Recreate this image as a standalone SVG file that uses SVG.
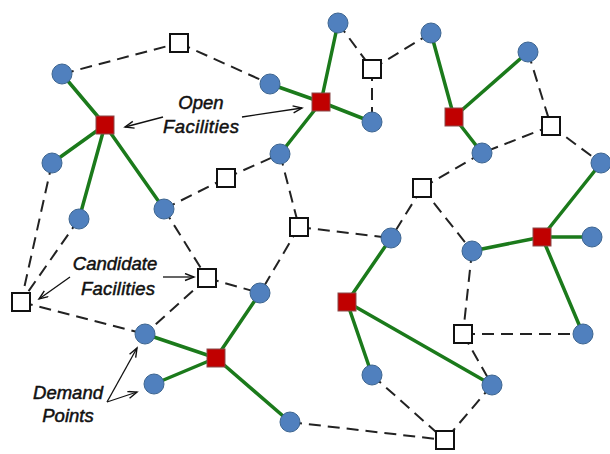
<svg xmlns="http://www.w3.org/2000/svg" width="610" height="454" viewBox="0 0 610 454">
<style>
.g{stroke:#1b7a1b;stroke-width:3.5;fill:none;stroke-linecap:round}
.d{stroke:#222;stroke-width:2;stroke-dasharray:12 7;fill:none}
.a{stroke:#111;stroke-width:1.3;fill:none;marker-end:url(#ah)}
.c{fill:#5080be;stroke:#3d6590;stroke-width:1}
.o{fill:#c00000;stroke:#8a4a4a;stroke-width:1}
.w{fill:#fff;stroke:#111;stroke-width:2}
.t{font-family:"Liberation Sans",Arial,sans-serif;font-style:italic;font-size:18.5px;fill:#111;stroke:#111;stroke-width:0.5;text-anchor:middle}
</style>
<defs>
<marker id="ah" markerWidth="12" markerHeight="10" refX="10" refY="4" orient="auto" markerUnits="userSpaceOnUse">
<path d="M1,0.5 L10,4 L1,7.5" fill="none" stroke="#111" stroke-width="1.4"/>
</marker>
</defs>
<rect width="610" height="454" fill="#fff"/>
<g id="connectors">
<line class="d" x1="62" y1="74" x2="179" y2="43"/>
<line class="d" x1="179" y1="43" x2="270" y2="84"/>
<line class="d" x1="338" y1="23" x2="372" y2="69"/>
<line class="d" x1="372" y1="69" x2="431" y2="33"/>
<line class="d" x1="372" y1="69" x2="372" y2="122"/>
<line class="d" x1="528" y1="52" x2="551" y2="126"/>
<line class="d" x1="551" y1="126" x2="482" y2="153"/>
<line class="d" x1="551" y1="126" x2="601" y2="163"/>
<line class="d" x1="482" y1="153" x2="422" y2="188"/>
<line class="d" x1="422" y1="188" x2="391" y2="238"/>
<line class="d" x1="422" y1="188" x2="472" y2="251"/>
<line class="d" x1="164" y1="209" x2="226" y2="178"/>
<line class="d" x1="226" y1="178" x2="280" y2="154"/>
<line class="d" x1="280" y1="154" x2="299" y2="227"/>
<line class="d" x1="299" y1="227" x2="391" y2="238"/>
<line class="d" x1="299" y1="227" x2="260" y2="293"/>
<line class="d" x1="164" y1="209" x2="207" y2="278"/>
<line class="d" x1="207" y1="278" x2="260" y2="293"/>
<line class="d" x1="207" y1="278" x2="145" y2="334"/>
<line class="d" x1="52" y1="163" x2="21" y2="302"/>
<line class="d" x1="79" y1="219" x2="21" y2="302"/>
<line class="d" x1="21" y1="302" x2="145" y2="334"/>
<line class="d" x1="472" y1="251" x2="463" y2="334"/>
<line class="d" x1="463" y1="334" x2="583" y2="334"/>
<line class="d" x1="463" y1="334" x2="492" y2="385"/>
<line class="d" x1="372" y1="375" x2="445" y2="440"/>
<line class="d" x1="492" y1="385" x2="445" y2="440"/>
<line class="d" x1="290" y1="422" x2="445" y2="440"/>
<line class="g" x1="105" y1="125" x2="62" y2="74"/>
<line class="g" x1="105" y1="125" x2="52" y2="163"/>
<line class="g" x1="105" y1="125" x2="79" y2="219"/>
<line class="g" x1="105" y1="125" x2="164" y2="209"/>
<line class="g" x1="321" y1="102" x2="270" y2="84"/>
<line class="g" x1="321" y1="102" x2="338" y2="23"/>
<line class="g" x1="321" y1="102" x2="372" y2="122"/>
<line class="g" x1="321" y1="102" x2="280" y2="154"/>
<line class="g" x1="454" y1="117" x2="431" y2="33"/>
<line class="g" x1="454" y1="117" x2="528" y2="52"/>
<line class="g" x1="454" y1="117" x2="482" y2="153"/>
<line class="g" x1="542" y1="237" x2="601" y2="163"/>
<line class="g" x1="542" y1="237" x2="472" y2="251"/>
<line class="g" x1="542" y1="237" x2="592" y2="237"/>
<line class="g" x1="542" y1="237" x2="583" y2="334"/>
<line class="g" x1="347" y1="302" x2="391" y2="238"/>
<line class="g" x1="347" y1="302" x2="372" y2="375"/>
<line class="g" x1="347" y1="302" x2="492" y2="385"/>
<line class="g" x1="216" y1="358" x2="260" y2="293"/>
<line class="g" x1="216" y1="358" x2="145" y2="334"/>
<line class="g" x1="216" y1="358" x2="154" y2="384"/>
<line class="g" x1="216" y1="358" x2="290" y2="422"/>
</g>
<g id="demand-points">
<circle id="c1" class="c" cx="62" cy="74" r="10"/>
<circle id="c2" class="c" cx="270" cy="84" r="10"/>
<circle id="c3" class="c" cx="338" cy="23" r="10"/>
<circle id="c4" class="c" cx="431" cy="33" r="10"/>
<circle id="c5" class="c" cx="528" cy="52" r="10"/>
<circle id="c6" class="c" cx="372" cy="122" r="10"/>
<circle id="c7" class="c" cx="482" cy="153" r="10"/>
<circle id="c8" class="c" cx="601" cy="163" r="10"/>
<circle id="c9" class="c" cx="52" cy="163" r="10"/>
<circle id="c10" class="c" cx="79" cy="219" r="10"/>
<circle id="c11" class="c" cx="164" cy="209" r="10"/>
<circle id="c12" class="c" cx="280" cy="154" r="10"/>
<circle id="c13" class="c" cx="391" cy="238" r="10"/>
<circle id="c14" class="c" cx="472" cy="251" r="10"/>
<circle id="c15" class="c" cx="592" cy="237" r="10"/>
<circle id="c16" class="c" cx="260" cy="293" r="10"/>
<circle id="c17" class="c" cx="145" cy="334" r="10"/>
<circle id="c18" class="c" cx="154" cy="384" r="10"/>
<circle id="c19" class="c" cx="290" cy="422" r="10"/>
<circle id="c20" class="c" cx="372" cy="375" r="10"/>
<circle id="c21" class="c" cx="492" cy="385" r="10"/>
<circle id="c22" class="c" cx="583" cy="334" r="10"/>
</g>
<g id="open-facilities">
<rect id="r1" class="o" x="96" y="116" width="18" height="18"/>
<rect id="r2" class="o" x="312" y="93" width="18" height="18"/>
<rect id="r3" class="o" x="445" y="108" width="18" height="18"/>
<rect id="r4" class="o" x="533" y="228" width="18" height="18"/>
<rect id="r5" class="o" x="338" y="293" width="18" height="18"/>
<rect id="r6" class="o" x="207" y="349" width="18" height="18"/>
</g>
<g id="candidate-facilities">
<rect id="w1" class="w" x="170" y="34" width="18" height="18"/>
<rect id="w2" class="w" x="363" y="60" width="18" height="18"/>
<rect id="w3" class="w" x="542" y="117" width="18" height="18"/>
<rect id="w4" class="w" x="217" y="169" width="18" height="18"/>
<rect id="w5" class="w" x="413" y="179" width="18" height="18"/>
<rect id="w6" class="w" x="290" y="218" width="18" height="18"/>
<rect id="w7" class="w" x="198" y="269" width="18" height="18"/>
<rect id="w8" class="w" x="12" y="293" width="18" height="18"/>
<rect id="w9" class="w" x="454" y="325" width="18" height="18"/>
<rect id="w10" class="w" x="436" y="431" width="18" height="18"/>
</g>
<g id="labels">
<text class="t" x="201" y="109">Open</text>
<text class="t" x="201" y="133" textLength="76" lengthAdjust="spacing">Facilities</text>
<line class="a" x1="163" y1="117" x2="125" y2="127"/>
<line class="a" x1="242" y1="117" x2="302" y2="108"/>
<text class="t" x="115" y="270">Candidate</text>
<text class="t" x="118" y="295" textLength="74" lengthAdjust="spacing">Facilities</text>
<line class="a" x1="70" y1="277" x2="39" y2="299"/>
<line class="a" x1="163" y1="277" x2="194" y2="277"/>
<text class="t" x="68" y="399">Demand</text>
<text class="t" x="68" y="422">Points</text>
<line class="a" x1="107" y1="402" x2="137" y2="348"/>
<line class="a" x1="107" y1="402" x2="137" y2="392"/>
</g>
</svg>
